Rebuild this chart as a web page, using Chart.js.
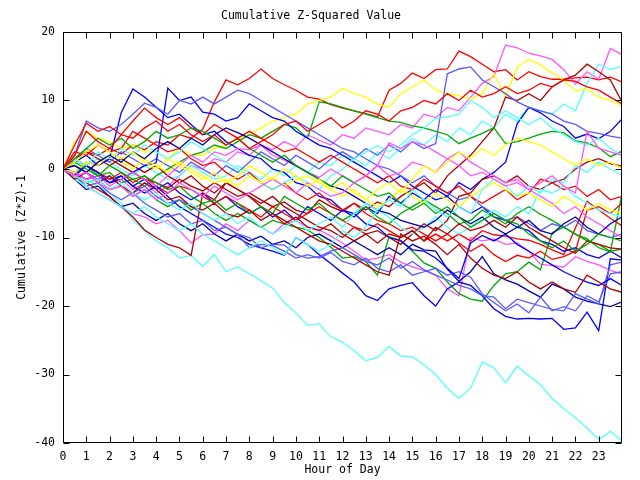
<!DOCTYPE html>
<html><head><meta charset="utf-8">
<script src="https://cdn.jsdelivr.net/npm/chart.js@4.4.0/dist/chart.umd.min.js"></script>
<style>html,body{margin:0;padding:0;background:#fff;}canvas{display:block;}</style>
</head><body>
<canvas id="c" width="640" height="480"></canvas>
<script>
const hours = [0,0.5,1,1.5,2,2.5,3,3.5,4,4.5,5,5.5,6,6.5,7,7.5,8,8.5,9,9.5,10,10.5,11,11.5,12,12.5,13,13.5,14,14.5,15,15.5,16,16.5,17,17.5,18,18.5,19,19.5,20,20.5,21,21.5,22,22.5,23,23.5,24];
const xTickValues = [0,1,2,3,4,5,6,7,8,9,10,11,12,13,14,15,16,17,18,19,20,21,22,23];
const yTickValues = [-40,-30,-20,-10,0,10,20];

const cyanOut = [0,-0.8,-1.5,-2.5, -3.5,-5,-7.5,-9, -10.5,-11.5,-13,-12.6, -14.2,-12.5,-15,-14.3, -15.3,-16.3,-17.4,-19.5, -21,-22.8,-22.6,-24.5, -25.3,-26.5,-28,-27.5, -25.9,-27.3,-27.4,-28.6, -30,-32,-33.5,-32, -28.2,-29,-31.2,-28.8, -30.2,-31.5,-33.5,-35, -36.3,-37.8,-39.5,-38.3, -39.7];
const red1 = [0,1,2.5,2, 3,2.2,3.5,2.8, 4,3.5,5,4.5, 5.8,9.8,13,12.3, 13.2,14.6,13.2,12.3, 11.5,10.5,10.2,9.4, 8.9,8.5,8.1,7.6, 11.5,12.5,14,13.2, 14.5,14.6,17.2,16.4, 15.3,14.2,14.5,13, 14.2,13.5,13.1,13.1, 13.3,13.4,13,13.4, 12.7];
const magTop = [0,-0.8,-1.5,-0.5, -2,-1.5,-3,-2, -3.5,-2.5,-1,0.5, 0,1.5,1,2.5, 2,3.5,2.8,4, 3.2,5,4.2,3.5, 5,4.5,6,5.5, 5,6.5,6,8, 7.5,9,8.5,10.5, 12.5,13.5,18.1,17.7, 16.9,16.5,16,14.5, 12.4,14.2,13.1,17.6, 16.7];
const cyanTop = [0,1,0.5,1.5, 1,0,-1,0.5, -0.5,-1.5,-1,0.5, -0.5,-1.5,-1,0.5, -0.5,-1.5,0,-1, 0.5,-0.5,1,0.5, 2,1.5,0.5,2.5, 1.5,3,4.5,3.5, 5,4,6,5, 7,6,8,7, 9,8.5,8,9.5, 8.5,12.5,15.3,14.5, 15];
const yellowTop = [0,4,5.5,4.5, 4,3,3.5,2.5, 2.5,1.5,3,2, 2,3,3.5,4.5, 5,6,7,7.5, 8,9.5,10,10.5, 11.8,11,10.5,9.5, 9,11,12,13, 11.5,11,10.7,10.2, 11,13.9,10.5,14.9, 16,15.2,14,13, 11.4,11.7,10.5,10, 9.2];
const darkRedTop = [0,-0.5,1,0.5, 1.5,0.5,-0.5,-1.5, -2,-2.8,-1.5,-2.5, -3.2,-2,-3,-4, -3.5,-4.5,-5.5,-4.8, -6,-6.5,-4.5,-5.5, -6.2,-5,-6,-4.8, -5.5,-4,-3,-2, -3.5,-1,0.5,2, 4,6,10.5,10, 11,10,12,13, 13.7,15.3,14.2,13, 9.8];
const blueUp = [0,-1,0.5,-0.5, -1.5,-1,-2.5,-1.5, -3,-2,-3.5,-4.5, -3.5,-5,-4,-5.5, -6.5,-5.5,-7,-6, -7.5,-5.5,-6.5,-7.5, -6,-7,-5.5,-6.5, -4,-5,-3.5,-4.5, -3,-4,-2,-3, -1.5,-0.5,1,6.6, 9,8.2,7,6.2, 4.5,5.1,4.4,5.5, 7.3];
const lightBlueUp = [0,1.5,3,2, 1,2.5,1.5,0.5, 1.5,0.5,-0.5,1, 0,-1,0.5,-0.5, 1,2.5,1.5,0.5, 2,1,0,1.5, 2.5,1.5,3,2, 3.5,2.5,4,3, 3.7,13.9,14.6,14.9, 13,12,11,9.8, 9,8.5,8,7, 6.5,5.5,5.2,4.8, 4.5];
const red2 = [0,2,5.5,4, 3,5,4.5,6, 7,5.5,6.5,5, 4,5,3.5,4.5, 3,4,5,6.5, 7,5.5,6.5,7.5, 6,7,8.5,8, 7,8.5,9,10, 9.5,11,10,11.5, 10.5,11,12,11, 11.5,12.5,12,13, 12.8,12,11.5,10.5, 9.5];
const green1 = [0,-0.5,0.5,-1, -0.5,-2,-1.5,-2.5, -1,0,1,2, 2.5,3.5,3,4, 5,4.5,5.5,6.5, 6,4.5,9.8,9.5, 9,8.5,8,7.5, 7,6.8,6.3,6, 5.5,5,3.7,4.5, 5.2,6,3.7,4, 4.5,5.1,5.5,5.3, 4.1,3.8,3.1,1.8, 2.6];
const darkRed2 = [0,1.5,2.5,1.5, 0.5,1.5,0.5,-0.5, 0.5,-1,-2,-1, -2.5,-3.5,-2,-3, -4,-5,-4,-5.5, -6.5,-7.5,-8.5,-9, -10,-8.5,-9.5,-9, -10,-11,-9.5,-8, -9,-7.5,-4,-3.5, -1.5,-1,-2,-1, -2.5,-3,-2,-1.5, 0,1,1.5,0.8, 0.4];
const cyanMid = [0,-1,-2,-1.5, -3,-2,-3.5,-4.5, -3.5,-5,-6,-5, -6.5,-7.5,-6.5,-8, -7,-8.5,-9.5,-8.5, -7.5,-9,-8,-7, -8.5,-6.5,-5,-6, -4.5,-5.5,-3,-4.5, -6,-7,-5.5,-6.5, -3,-1.5,-2.5,-4, -2.5,-3.5,-1.5,-2, 0.5,-0.5,1,0, -0.9];
const yellow2 = [0,1,2.5,3.5, 2.5,1.5,2.5,1, 0,1.5,0.5,-0.5, -1.5,-0.5,-2,-1, 0.5,-0.5,-1.5,0, -1,-2.5,-1.5,-3, -2,-3.5,-4.5,-3, -2,-3.5,-1.5,0.5, -0.5,1,2.5,1.5, 3,2,3.5,4.5, 4,3.5,2.5,1.5, 0.6,1.5,0.5,1, 0.1];
const magLow = [0,-1,-2.5,-3.5, -4.5,-5.5,-6.5,-7, -8,-7.5,-9,-10.8, -9.6,-9.5,-8,-9, -7.5,-8.5,-9.5,-8, -7.5,-8.5,-8.9,-9.8, -10.8,-12,-13.3,-13, -12.5,-13.6,-14.3,-14.8, -15.5,-17.5,-18.5,-10, -10.5,-10.2,-11,-10.8, -12,-13.9,-14.1,-14.3, -12.8,-13.5,-14,-14.8, -15.3];
const greenLow = [0,-1,-2,-1.5, -3,-2.5,-4,-3, -4.5,-5.5,-4.5,-6, -5,-6.5,-7.5,-6.5, -7.5,-8.5,-7.5,-8, -8.5,-8.9,-10,-11.4, -13,-12.8,-13.5,-15.5, -9.9,-10.4,-12,-13.7, -14.5,-16.5,-18.2,-19, -19.3,-17,-15.3,-15, -13.6,-14.7,-9.3,-8.5, -9.5,-10.2,-11.5,-12.1, -3.6];
const redLow = [0,1.5,0.5,-0.5, -1.5,-0.5,-2,-1, -2.5,-3.5,-2.5,-3, -4,-5,-4,-5, -6,-7,-5.5,-6.5, -7.5,-6.5,-5.5,-6.5, -7.5,-8.5,-9,-8, -9,-10,-9,-10.5, -9.5,-10.5,-9.5,-10.5, -9,-9.6,-9.8,-10.2, -10.4,-11,-11.8,-12.5, -8.6,-4.7,-6,-7.2, -8.3];
const blueBottom = [0,-1,0.5,-0.5, -2,-1,-2.5,-3.5, -2.5,-4,-5.5,-6.5, -7.5,-8.5,-9.5,-10, -11,-11.5,-12,-12.6, -10,-11,-12.5,-13.8, -15.2,-16.5,-18.5,-19.2, -17.5,-17,-16.6,-18.5, -20,-17.5,-16.5,-17, -18.5,-20.4,-21.5,-21.9, -21.8,-21.9,-21.8,-23.4, -23.2,-20.9,-23.6,-13.1, -13.3];
const navy2 = [0,-1.5,-3,-2.5, -4,-5.5,-5,-6.5, -7.5,-6.5,-8,-9, -8,-9.5,-10.5,-9.5, -10.5,-9.8,-11,-10.5, -11.5,-10,-9.5,-10.5, -11.5,-10.5,-11.5,-12.5, -11.5,-12.5,-11,-11.8, -12,-14.6,-16.4,-15, -12.8,-15.3,-16.2,-16.8, -17.8,-18.7,-16.8,-17.5, -18.7,-19.3,-19.7,-20.1, -19.4];
const lightBlue1 = [0,-1,-2.5,-2, -3.5,-4.5,-3.5,-5, -6,-7,-6.5,-8, -7.5,-9,-8.5,-9.5, -10,-11.5,-11,-11.1, -12.5,-13,-12.8,-12, -11.5,-12.5,-13.5,-14, -13,-14.5,-13.5,-14.7, -15.5,-16.2,-17,-17.5, -18.5,-18.7,-20.4,-19, -19.5,-20,-20.5,-20.7, -18.2,-19,-19.7,-14, -13.6];
const lightBlue2 = [0,0.5,-0.5,-1.5, -1,-2.5,-3.5,-2.5, -4,-5,-4.5,-5.5, -6.5,-7.5,-8.5,-9.6, -11.5,-11,-11.2,-12, -13,-12.5,-13,-12.2, -13.5,-14,-13,-14.5, -15,-14,-15.5,-15, -14.5,-15.5,-15,-15.8, -18.2,-19.5,-20.7,-19.7, -21,-18.7,-20.7,-20.1, -20.7,-18.5,-19.4,-15.3, -15];
const blueMid = [0,1,2,0.5, 1.5,8.2,11.7,10.5, 9,7.5,8,6.5, 5,5.5,4,3, 2,1.5,0,-0.5, -2,-2.5,-4,-4.5, -6,-6.5,-8,-8.5, -10,-10.5,-11.8,-12, -13,-14.5,-16,-10.8, -9.7,-10.5,-9.5,-11, -12,-13,-14,-15, -15.8,-16.5,-17,-16, -17];
const blue2 = [0,-0.5,-1.5,-1, -2,-1.5,-0.5,0.5, 0.9,11.8,10,10.5, 8.3,8,7,7.5, 9.5,8.5,7.5,7, 5.5,4.5,3.5,3, 2,1,0,-1, -2,-1,-2.5,-3.5, -4.5,-4,-5.5,-6.5, -5.5,-7,-7.5,-8.5, -9,-10.5,-11,-12, -11.5,-12.5,-13,-12, -13];
const lightBlue3 = [0,2,7,6, 5.5,6.5,8,9.6, 9,8,10,9.5, 10.5,9.5,10.5,11.5, 11,10,9,8, 7,6,5,4, 3,2.5,1.5,0.5, 0,-1,-2,-1, -2.5,-3.5,-4.5,-4, -5.5,-6.5,-7.5,-7, -8,-9,-8,-8.5, -7.5,-9,-9.5,-10, -9.5];
const red3 = [0,2.5,2,3.5, 2.5,3,5.5,4.5, 3.5,2.5,3,1.5, 0.5,1,-0.5,-1.5, -0.5,-2,-3,-2, -3.5,-4.5,-3.5,-5, -6,-5,-6.5,-7.5, -8,-9,-8.5,-9.5, -10.5,-9.5,-10.8,-12, -11,-12.5,-13.5,-12.6, -13,-12,-13.2,-12.8, -12,-6,-5.5,-6.5, -5];
const darkRed3 = [0,-1,-2,-3, -4,-5.5,-7,-8.9, -10,-11,-11.5,-12.6, -3.5,-4.5,-2,-3, -4,-5.5,-6.5,-7.5, -8.5,-9.5,-10.5,-11, -12,-13,-14,-15, -15.5,-9.5,-10.5,-9.8, -11,-12.5,-11,-13, -14.5,-15.5,-16,-15, -16.5,-17.5,-16.5,-17.5, -18,-15.5,-16.5,-17.5, -18];
const magMid = [0,-1,-0.5,-2, -3,-2.5,-4,-3, -4.5,-3.5,-2,-3, -4,-2.5,-3.5,-4.5, -3.5,-2.5,-1.5,-2.5, -3.5,-2,-3,-4, -3.5,-2,-1,0.5, -1,-0.5,1,0.5, -0.5,1.5,0.5,-1, -0.5,-1.5,-2.5,-2, -3,-2,-1,-2.5, -3.5,5.5,3,2.5, 2];
const magMid2 = [0,-0.5,-1.5,-1, -2.5,-1.5,-0.5,-1.5, -2.5,-1,0.5,2, 1,2.5,2,3, 2.8,3.5,2,1.3, 0.5,-0.5,-1.2,0, -1,-2,-1,0.5, 3.8,3,4,3.5, 2.5,1.5,2.5,1, 0,-1,-2,-1.5, -3,-4,-5,-6.5, -5.5,-7,-8,-9, -10];
const greenMid = [0,1,0,-1, 0.5,-0.5,-1.5,-1, -2,-3,-2.5,-4, -5,-4.5,-6,-5, -6.5,-5.5,-6.5,-4, -5,-6,-5,-6.5, -7.5,-6.5,-5.5,-7, -8,-6.5,-5.5,-4.5, -5.5,-6.5,-8,-7.5, -6,-7,-8,-6.5, -5.5,-6.6,-7.5,-8.5, -9.5,-10.5,-11,-12, -11.7];
const green2 = [0,1.5,3,4.5, 3.5,4.5,3,4, 5.5,4.5,5,6, 5.5,4.5,3.5,4.5, 3,2,1,2, 0.5,-0.5,-1.5,-2.5, -1,-2,-3,-4, -3.5,-5,-6,-5, -6.5,-5.5,-7,-8.5, -7.5,-6.5,-7.5,-8, -9.5,-10.5,-11.5,-10.5, -12,-11,-9.5,-10, -10.5];
const cyanUpper = [0,1.5,0.5,2.5, 1.5,3,2,3.5, 2.5,1.5,2.5,4, 3,2,1,0, -1,-2,-3,-2, -1,-2,-3,-1, 0,1.5,2.5,3.4, 2.5,3.5,5,6, 7.4,7.6,8,10, 9,7.5,8.5,7.5, 6.5,7.5,6,5, 4,3.5,4.5,3, 2];
const cyanLow = [0,-1.5,-2.5,-3.5, -4.5,-5.5,-6.5,-5.5, -7,-8,-9,-8, -9.5,-10.5,-11.5,-12.5, -11.5,-10.5,-11.5,-12.5, -10,-11,-12,-11, -9,-10,-8.5,-6, -7,-8.5,-9.5,-8.5, -7,-8.5,-9.5,-8.5, -7,-6,-7,-5.5, -6.5,-3,-3.5,-2.5, -4,-5,-6,-6.5, -7];
const yellow3 = [0,-0.5,1,0.5, 2,1,0,1.5, 0.5,-0.5,1,0, -1,-2,-1.5,-2.5, -1,-2,-1.2,-2.5, -1.5,-1,-2,-3, -4,-3,-4.5,-5.5, -4.5,-3,-4,-5, -3.5,-4.5,-5.5,-4, -3,-2,-3,-4, -3.5,-4.5,-5.5,-4, -5,-6,-5,-6, -6.5];
const red4 = [0,3.5,6.7,5.5, 6.2,5,7,8.9, 7.5,6.5,7.5,6, 5,6.5,5.5,4.5, 5.5,4.5,3.5,2.5, 3,2,1,2, 1,0,-1,-2, -1,-2.5,-3,-1.5, -2.5,-3.5,-2.5,-4, -5,-4,-3,-4.5, -3.5,-1.5,-2,-3, -2.5,-4,-3,-4.5, -4];
const navy1 = [0,0.5,-0.5,1, 2,1,2.5,1.5, 3,4,3,4.5, 3.5,5,6,5.3, 4.5,3.5,2.5,1.5, 0.5,-0.5,-1.5,-2.5, -3,-4,-5,-6, -6.5,-7.5,-8,-8.5, -7.5,-6,-7,-8, -7,-8.5,-9.5,-8.5, -7.5,-9,-9.5,-8, -7,-8.5,-9.5,-8, -7];
const darkRed4 = [0,-1.5,-0.5,-2, -1,-2.5,-3.5,-2, -3,-4.5,-4,-5.5, -6,-5,-6.5,-7, -6,-7.5,-6.5,-8, -7,-8.5,-9,-8, -9.5,-10.5,-9.5,-10.8, -9.5,-10,-9,-10.5, -8.5,-9.5,-8,-9, -8.5,-7.5,-8.5,-7, -8.5,-9.5,-10.5,-11.5, -12.3,-10.5,-11,-11.5, -11.7];

const palette = {
  red:'#ff0000', darkred:'#b00000', blue:'#0000ff', lightblue:'#5a5aff', navy:'#0000a8',
  green:'#00a800', magenta:'#ff55ff', cyan:'#55ffff', yellow:'#ffff00'
};
const seriesList = [
  [red2,'red'],[yellow2,'yellow'],[magMid,'magenta'],[cyanMid,'cyan'],[green2,'green'],
  [darkRed4,'darkred'],[navy1,'navy'],[yellow3,'yellow'],[cyanLow,'cyan'],[greenMid,'green'],
  [magMid2,'magenta'],[red4,'red'],[cyanUpper,'cyan'],[lightBlue3,'lightblue'],[darkRed3,'darkred'],
  [red3,'red'],[blue2,'blue'],[blueMid,'blue'],[lightBlue2,'lightblue'],[lightBlue1,'lightblue'],
  [navy2,'navy'],[blueBottom,'blue'],[redLow,'red'],[greenLow,'green'],[magLow,'magenta'],
  [darkRed2,'darkred'],[green1,'green'],[lightBlueUp,'lightblue'],[blueUp,'blue'],[darkRedTop,'darkred'],
  [yellowTop,'yellow'],[cyanTop,'cyan'],[magTop,'magenta'],[red1,'red'],[cyanOut,'cyan']
];

const FONT_FAMILY = '"DejaVu Sans Mono", "Liberation Mono", monospace';

const framePlugin = {
  id: 'frame',
  afterDatasetsDraw(chart) {
    const {ctx, chartArea: a, scales: {x, y}} = chart;
    const L = Math.round(a.left) + 0.5, R = Math.round(a.right) - 0.5;
    const T = Math.round(a.top) + 0.5, B = Math.round(a.bottom) - 0.5;
    const len = 6;
    ctx.save();
    ctx.strokeStyle = '#000';
    ctx.lineWidth = 1;
    ctx.beginPath();
    ctx.rect(L, T, R - L, B - T);
    xTickValues.forEach(v => {
      const px = Math.round(x.getPixelForValue(v)) + 0.5;
      ctx.moveTo(px, T); ctx.lineTo(px, T + len);
      ctx.moveTo(px, B); ctx.lineTo(px, B - len);
    });
    yTickValues.forEach(v => {
      const py = Math.round(y.getPixelForValue(v)) + 0.5;
      ctx.moveTo(L, py); ctx.lineTo(L + len, py);
      ctx.moveTo(R, py); ctx.lineTo(R - len, py);
    });
    ctx.stroke();
    ctx.restore();
  }
};

new Chart(document.getElementById('c'), {
  type: 'line',
  data: {
    datasets: seriesList.map(([vals, col], i) => ({
      label: 'S' + (i + 1),
      data: vals.map((v, k) => ({x: hours[k], y: v})),
      borderColor: palette[col],
      borderWidth: 1.3,
      pointRadius: 0,
      tension: 0,
      fill: false
    }))
  },
  options: {
    responsive: false,
    animation: false,
    devicePixelRatio: 1,
    layout: {padding: {left: 0, right: 18, top: 0, bottom: 0}},
    plugins: {
      legend: {display: false},
      tooltip: {enabled: false},
      title: {
        display: true,
        text: 'Cumulative Z-Squared Value',
        color: '#000',
        font: {family: FONT_FAMILY, size: 11.5, weight: 'normal', lineHeight: 1},
        padding: {top: 10, bottom: 10.5}
      }
    },
    scales: {
      x: {
        type: 'linear',
        min: 0, max: 24,
        afterFit: s => { s.height = 37; },
        afterBuildTicks: s => { s.ticks = xTickValues.map(v => ({value: v})); },
        grid: {display: false, drawTicks: false},
        border: {display: false},
        ticks: {
          color: '#000', padding: 7, maxRotation: 0, autoSkip: false,
          font: {family: FONT_FAMILY, size: 11.5},
          callback: v => String(v)
        },
        title: {
          display: true, text: 'Hour of Day', color: '#000',
          font: {family: FONT_FAMILY, size: 11.5},
          padding: {top: 0, bottom: 3}
        }
      },
      y: {
        min: -40, max: 20,
        afterFit: s => { s.width = 63; },
        afterBuildTicks: s => { s.ticks = yTickValues.map(v => ({value: v})); },
        grid: {display: false, drawTicks: false},
        border: {display: false},
        ticks: {
          color: '#000', padding: 8,
          font: {family: FONT_FAMILY, size: 11.5},
          callback: v => String(v)
        },
        title: {
          display: true, text: 'Cumulative (Z*Z)-1', color: '#000',
          font: {family: FONT_FAMILY, size: 11.5},
          padding: {top: 15, bottom: 0}
        }
      }
    }
  },
  plugins: [framePlugin]
});
</script>
</body></html>
